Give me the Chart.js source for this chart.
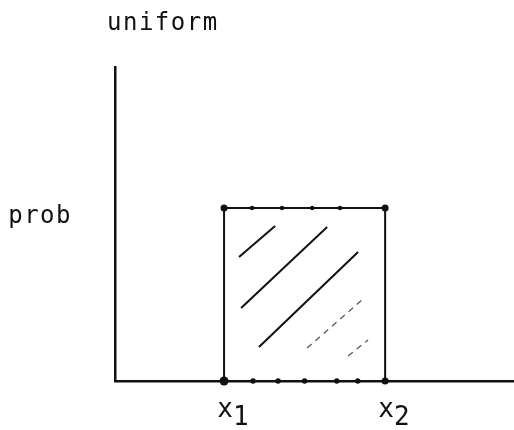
<!DOCTYPE html>
<html>
<head>
<meta charset="utf-8">
<script src="https://cdn.jsdelivr.net/npm/chart.js@4.4.0/dist/chart.umd.min.js"></script>
<style>
  html, body { margin: 0; padding: 0; background: #fff; }
  canvas { display: block; }
</style>
</head>
<body>
<canvas id="uniformChart" width="514" height="430"></canvas>
<script>
const chartTitle = "uniform";
const yLabel = "prob";
const yLabelAt = 0.95;
const xTickValues = [1, 2];
const xTickNames = ["x", "x"];
const xTickSubs = ["1", "2"];
const xRange = [0.323, 2.8];
const yRange = [0, 1.815];

// the box: x1 -> x2, height = prob
const boxX = [1, 1, 2, 2];
const boxY = [0, 1, 1, 0];
const boxRadius = [4.5, 3.5, 3.5, 3.5];

// stray print dots along the top and bottom edges
const topDotsX = [1.174, 1.36, 1.547, 1.72];
const bottomDotsX = [1.18, 1.335, 1.5, 1.7, 1.83];

// hatching strokes inside the box
const hatchX1 = [1.093, 1.106, 1.217, 1.516, 1.77];
const hatchY1 = [0.717, 0.422, 0.197, 0.191, 0.145];
const hatchX2 = [1.317, 1.64, 1.832, 1.87, 1.894];
const hatchY2 = [0.896, 0.89, 0.746, 0.48, 0.237];
const hatchDashed = [false, false, false, true, true];

const ink = "#111";
const monoFont = "'DejaVu Sans Mono', 'Liberation Mono', monospace";

const datasets = [
  {
    label: "box",
    type: "line",
    data: boxX.map((x, i) => ({ x, y: boxY[i] })),
    borderColor: ink,
    borderWidth: 2,
    pointRadius: boxRadius,
    pointBackgroundColor: ink,
    pointBorderWidth: 0,
    clip: false,
  },
  {
    label: "top dots",
    type: "scatter",
    data: topDotsX.map((x) => ({ x, y: 1 })),
    pointRadius: 2.2,
    pointBackgroundColor: ink,
    pointBorderWidth: 0,
    clip: false,
  },
  {
    label: "bottom dots",
    type: "scatter",
    data: bottomDotsX.map((x) => ({ x, y: 0 })),
    pointRadius: 2.7,
    pointBackgroundColor: ink,
    pointBorderWidth: 0,
    clip: false,
  },
];

hatchX1.forEach((x, i) => {
  datasets.push({
    label: "hatch " + i,
    type: "line",
    data: [
      { x: x, y: hatchY1[i] },
      { x: hatchX2[i], y: hatchY2[i] },
    ],
    borderColor: hatchDashed[i] ? "#555" : ink,
    borderWidth: hatchDashed[i] ? 1.2 : 2,
    borderDash: hatchDashed[i] ? [6, 5] : [],
    pointRadius: 0,
  });
});

const textPlugin = {
  id: "textPlugin",
  beforeDraw(chart) {
    chart.ctx.letterSpacing = "1.5px";
  },
  afterDraw(chart) {
    const { ctx, chartArea, scales } = chart;
    ctx.save();
    ctx.fillStyle = ink;
    ctx.letterSpacing = "1.5px";
    ctx.textBaseline = "alphabetic";
    ctx.textAlign = "left";
    ctx.font = "24px " + monoFont;
    ctx.fillText(chartTitle, chartArea.left - 8, 30);

    // x1 / x2 with a dropped digit
    ctx.letterSpacing = "0px";
    ctx.font = "26px " + monoFont;
    xTickValues.forEach((v, i) => {
      const px = scales.x.getPixelForValue(v);
      ctx.textAlign = "center";
      ctx.fillText(xTickNames[i], px + 1, 417);
      const w = ctx.measureText(xTickNames[i]).width;
      ctx.textAlign = "left";
      ctx.fillText(xTickSubs[i], px + w / 2 + 1, 425);
    });
    ctx.restore();
  },
};

new Chart(document.getElementById("uniformChart"), {
  type: "scatter",
  data: { datasets },
  options: {
    responsive: false,
    animation: false,
    layout: { autoPadding: false, padding: { top: 67, left: 0, right: 0, bottom: 0 } },
    plugins: {
      legend: { display: false },
      tooltip: { enabled: false },
      title: { display: false },
    },
    scales: {
      x: {
        type: "linear",
        min: xRange[0],
        max: xRange[1],
        grid: { display: false },
        border: { display: true, color: ink, width: 2.5 },
        ticks: { display: false },
        afterFit: (scale) => {
          scale.height = 49;
          scale.paddingLeft = 0;
          scale.paddingRight = 0;
        },
      },
      y: {
        type: "linear",
        min: yRange[0],
        max: yRange[1],
        grid: { display: false },
        border: { display: true, color: ink, width: 2.5 },
        afterBuildTicks: (scale) => {
          scale.ticks = [{ value: yLabelAt }];
        },
        ticks: {
          padding: 35,
          color: ink,
          font: { family: monoFont, size: 24 },
          callback: () => yLabel,
        },
        afterFit: (scale) => {
          scale.width = 115;
          scale.paddingTop = 0;
          scale.paddingBottom = 0;
        },
      },
    },
  },
  plugins: [textPlugin],
});
</script>
</body>
</html>
